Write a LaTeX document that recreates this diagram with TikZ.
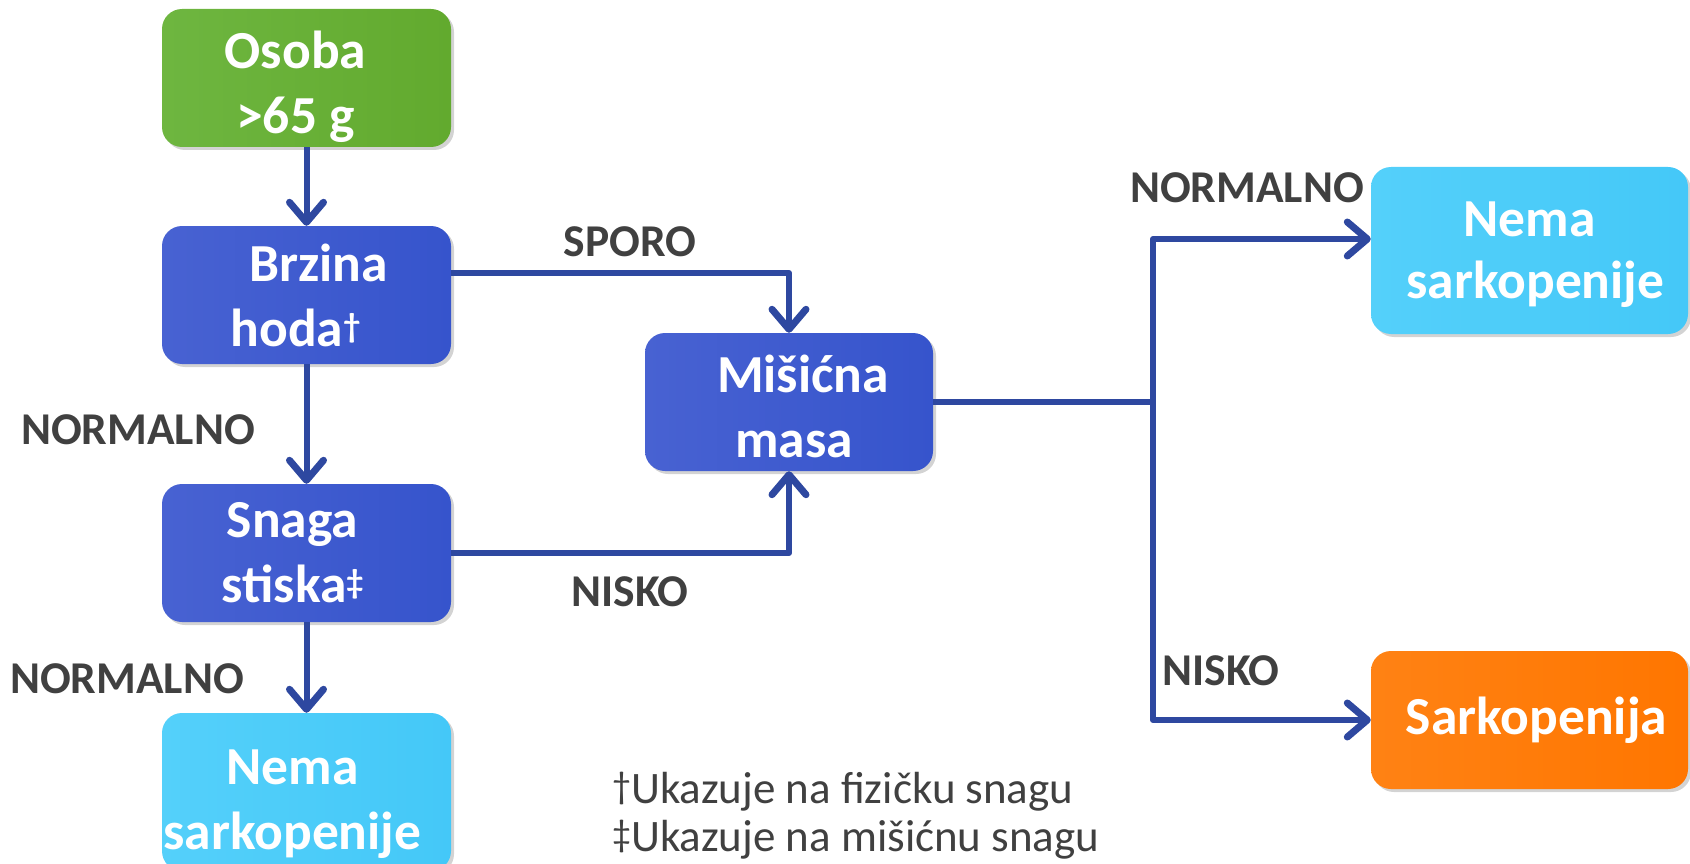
\documentclass[tikz,border=0pt]{standalone}
\usepackage{fontspec}
\setmainfont{Carlito}
\usetikzlibrary{arrows.meta,shadows,calc}

\definecolor{linkblue}{RGB}{46,72,160}
\definecolor{labelgray}{RGB}{64,64,64}
\definecolor{greenL}{RGB}{110,182,64}
\definecolor{greenR}{RGB}{98,170,46}
\definecolor{blueL}{RGB}{72,98,210}
\definecolor{blueR}{RGB}{54,84,204}
\definecolor{skyL}{RGB}{84,208,250}
\definecolor{skyR}{RGB}{68,200,248}
\definecolor{orangeL}{RGB}{255,130,20}
\definecolor{orangeR}{RGB}{255,118,0}

% invisible strut that lowers the first line of a box label
\newcommand\topstrut[1]{\rule{0pt}{#1}}
% small raised footnote marks
\newcommand\boxmark[1]{\raisebox{9pt}{\fontsize{34}{34}\selectfont #1}}
\newcommand\notemark[1]{\raisebox{5pt}{\fontsize{38}{38}\selectfont #1}}

\tikzset{
  box/.style={rounded corners=20pt, minimum width=289pt, minimum height=138pt,
    inner sep=0pt, text=white, align=center,
    font=\bfseries\fontsize{53.5}{65}\selectfont,
    drop shadow={shadow xshift=3pt, shadow yshift=-3pt, opacity=0.35}},
  startbox/.style={box, left color=greenL, right color=greenR},
  testbox/.style={box, left color=blueL, right color=blueR},
  nobox/.style={box, left color=skyL, right color=skyR},
  yesbox/.style={box, left color=orangeL, right color=orangeR},
  link/.style={draw=linkblue, line width=6pt, line join=round},
  arr/.style={link, -{Straight Barb[length=20pt, width=34pt, line width=7pt, round]}},
  edgelabel/.style={text=labelgray, font=\bfseries\fontsize{45.5}{50}\selectfont, inner sep=0pt},
  note/.style={text=labelgray, font=\fontsize{45}{50}\selectfont, inner sep=0pt, anchor=base west}
}

\begin{document}
\begin{tikzpicture}[x=1pt, y=-1pt]
  \useasboundingbox (0,0) rectangle (1690,864);
  \clip (0,0) rectangle (1690,864);

  % Decision boxes
  \node[startbox] (osoba) at (306.5,78)
    {\topstrut{56pt}Osoba\hspace*{22pt}\\>65 g\hspace*{22pt}};
  \node[testbox] (brzina) at (306.5,295)
    {\hspace*{24pt}Brzina\\hoda\boxmark{†}\hspace*{22pt}};
  \node[testbox] (snaga) at (306.5,553)
    {Snaga\hspace*{28pt}\\stiska\boxmark{‡}\hspace*{28pt}};
  \node[nobox, minimum height=158pt] (nemaL) at (306.5,792)
    {\topstrut{60pt}Nema\hspace*{28pt}\\sarkopenije\hspace*{28pt}};
  \node[testbox, minimum width=288pt] (misicna) at (789,402)
    {\topstrut{46pt}\hspace*{28pt}Mišićna\\\hspace*{10pt}masa};
  \node[nobox, minimum width=317pt, minimum height=167pt] (nemaR) at (1529.5,250.5)
    {\topstrut{44pt}Nema\\[-3pt]\hspace*{12pt}sarkopenije};
  \node[yesbox, minimum width=317pt] (sarko) at (1529.5,720)
    {\hspace*{14pt}Sarkopenija};

  % Branch points of the connectors
  \coordinate (brzinaOut) at (brzina.east |- 0,273);
  \coordinate (split) at (1153,402);
  \coordinate (toNema) at (nemaR.west |- 0,239);

  % Connectors
  \draw[arr] (osoba) -- (brzina);
  \draw[arr] (brzina) -- (snaga);
  \draw[arr] (snaga) -- (nemaL);
  \draw[arr] (brzinaOut) -| (misicna.north);
  \draw[arr] (snaga.east) -| (misicna.south);
  \draw[link] (misicna.east) -- (split);
  \draw[arr] (split) |- (toNema);
  \draw[arr] (split) |- (sarko.west);

  % Connector labels
  \node[edgelabel] (lSporo) at (630,242) {SPORO};
  \node[edgelabel] (lNisko) at (630,592) {NISKO};
  \node[edgelabel] (lNorm1) at (138,430) {NORMALNO};
  \node[edgelabel] (lNorm2) at (127,679) {NORMALNO};
  \node[edgelabel] (lNorm3) at (1247,188) {NORMALNO};
  \node[edgelabel] (lNisko2) at (1221,671) {NISKO};

  % Footnotes
  \node[note] (fn1) at (612,803) {\notemark{†}Ukazuje na fizičku snagu};
  \node[note] (fn2) at (612,851) {\notemark{‡}Ukazuje na mišićnu snagu};
\end{tikzpicture}
\end{document}
